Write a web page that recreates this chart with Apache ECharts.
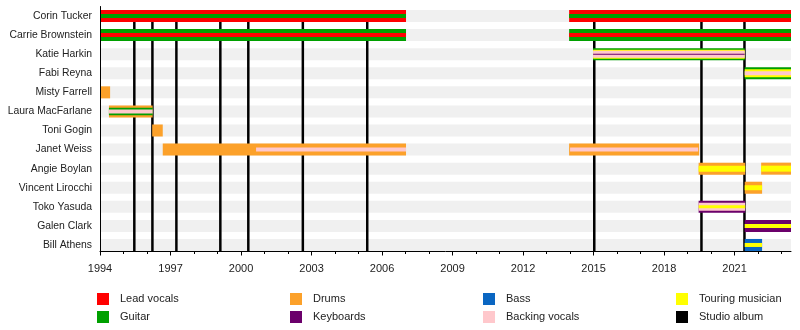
<!DOCTYPE html>
<html>
<head>
<meta charset="utf-8">
<script src="https://cdn.jsdelivr.net/npm/echarts@6/dist/echarts.min.js"></script>
<style>
html,body{margin:0;padding:0;background:#fff;}
#chart{width:800px;height:330px;}
</style>
</head>
<body>
<div id="chart"></div>
<script>
// ---------- DATA ----------
const members = ['Corin Tucker','Carrie Brownstein','Katie Harkin','Fabi Reyna','Misty Farrell','Laura MacFarlane','Toni Gogin','Janet Weiss','Angie Boylan','Vincent Lirocchi','Toko Yasuda','Galen Clark','Bill Athens'];

const startYear = 1994;
const endYear = 2023.4;
const tickYears = [1994,1997,2000,2003,2006,2009,2012,2015,2018,2021];
const minorYears = [1994,1995,1996,1997,1998,1999,2000,2001,2002,2003,2004,2005,2006,2007,2008,2009,2010,2011,2012,2013,2014,2015,2016,2017,2018,2019,2020,2021,2022,2023];

const leadVocals = [
  ['Corin Tucker',1994,2007.02],['Corin Tucker',2013.96,2023.4],
  ['Carrie Brownstein',1994,2007.02],['Carrie Brownstein',2013.96,2023.4]
];
const guitar = [
  ['Corin Tucker',1994,2007.02],['Corin Tucker',2013.96,2023.4],
  ['Carrie Brownstein',1994,2007.02],['Carrie Brownstein',2013.96,2023.4],
  ['Katie Harkin',2014.98,2021.43],['Fabi Reyna',2021.43,2023.4],
  ['Laura MacFarlane',1994.38,1996.24]
];
const drums = [
  ['Misty Farrell',1994,1994.43],['Laura MacFarlane',1994.38,1996.24],
  ['Toni Gogin',1996.22,1996.67],['Janet Weiss',1996.67,2007.02],
  ['Janet Weiss',2013.96,2019.49],['Angie Boylan',2019.47,2021.45],
  ['Angie Boylan',2022.13,2023.4],['Vincent Lirocchi',2021.43,2022.17]
];
const bass = [['Bill Athens',2021.43,2022.17]];
const keyboards = [
  ['Katie Harkin',2014.98,2021.43],['Toko Yasuda',2019.47,2021.45],
  ['Galen Clark',2021.43,2023.4]
];
const backingVocals = [
  ['Katie Harkin',2014.98,2021.43],['Fabi Reyna',2021.43,2023.4],
  ['Laura MacFarlane',1994.38,1996.24],['Janet Weiss',2000.64,2007.02],
  ['Janet Weiss',2014.0,2019.45],['Toko Yasuda',2019.47,2021.45]
];
const touringMusician = [
  ['Katie Harkin',2014.98,2021.43],['Fabi Reyna',2021.43,2023.4],
  ['Angie Boylan',2019.47,2021.45],['Angie Boylan',2022.13,2023.4],
  ['Vincent Lirocchi',2021.43,2022.17],['Toko Yasuda',2019.47,2021.45],
  ['Galen Clark',2021.43,2023.4],['Bill Athens',2021.43,2022.17]
];
const studioAlbums = [1995.46,1996.23,1997.25,1999.12,2000.31,2002.63,2005.37,2015.03,2019.59,2021.42];

// ---------- STYLE ----------
const colors = {
  lead:'#FF0000', guitar:'#00A000', drums:'#FCA12A', bass:'#0A66C2',
  keys:'#6B006B', bv:'#FFC8CC', touring:'#FFFF00', album:'#000000'
};
// stripe thickness (px) per member and role
const thickness = {
  'Corin Tucker':{lead:12, guitar:4},
  'Carrie Brownstein':{guitar:12, lead:4},
  'Katie Harkin':{guitar:12, touring:9, bv:7, keys:1},
  'Fabi Reyna':{guitar:12, touring:8, bv:4},
  'Misty Farrell':{drums:12},
  'Laura MacFarlane':{drums:12, guitar:7.5, bv:4},
  'Toni Gogin':{drums:12},
  'Janet Weiss':{drums:12, bv:4},
  'Angie Boylan':{drums:12, touring:6},
  'Vincent Lirocchi':{drums:12, touring:5},
  'Toko Yasuda':{keys:12, bv:8, touring:3},
  'Galen Clark':{keys:12, touring:4},
  'Bill Athens':{bass:12, touring:4}
};

function roleSeries(name, key, spans){
  return {
    type:'custom', name:name, z:3,
    itemStyle:{color:colors[key]},
    encode:{x:[1,2], y:0},
    data: spans.map(s => [members.indexOf(s[0]), s[1], s[2]]),
    renderItem:function(params, api){
      const row = api.value(0);
      const a = api.coord([api.value(1), row]);
      const b = api.coord([api.value(2), row]);
      const h = thickness[members[row]][key];
      return {type:'rect', z2:100 - h,
        shape:{x:a[0], y:a[1]-h/2, width:b[0]-a[0], height:h},
        style:{fill:colors[key]}};
    }
  };
}

const chart = echarts.init(document.getElementById('chart'), null, {renderer:'canvas'});
const labelFont = 'Liberation Sans, Arial, sans-serif';

// legend layout: [name, left, top]
const legendLayout = [
  ['Lead vocals',92,288],['Guitar',92,306],
  ['Drums',285,288],['Keyboards',285,306],
  ['Bass',478,288],['Backing vocals',478,306],
  ['Touring musician',671,288],['Studio album',671,306]
];
const legends = legendLayout.map(l => ({
  data:[l[0]], left:l[1], top:l[2], orient:'horizontal',
  itemWidth:12, itemHeight:12, icon:'rect', selectedMode:false,
  textStyle:{fontSize:11, color:'#222', fontFamily:labelFont, padding:[0,0,0,6]}
}));

chart.setOption({
  animation:false,
  backgroundColor:'#fff',
  grid:{left:100, right:9, top:6.5, height:248},
  xAxis:[{
    type:'value', min:startYear, max:endYear, position:'bottom', offset:-3, z:10,
    axisLine:{show:true, lineStyle:{color:'#000', width:1}},
    axisTick:{show:true, length:4, customValues:tickYears, lineStyle:{color:'#000'}},
    axisLabel:{customValues:tickYears, fontSize:11, color:'#222', fontFamily:labelFont, margin:12,
      formatter:v => String(v)},
    splitLine:{show:false}
  },{
    type:'value', min:startYear, max:endYear, position:'bottom', offset:-3, z:10,
    axisLine:{show:false},
    axisTick:{show:true, length:2.5, customValues:minorYears, lineStyle:{color:'#000'}},
    axisLabel:{show:false},
    splitLine:{show:false}
  }],
  yAxis:{
    type:'category', data:members, inverse:true, z:10,
    axisLine:{show:true, lineStyle:{color:'#000', width:1}},
    axisTick:{show:false},
    axisLabel:{fontSize:10.4, color:'#222', fontFamily:labelFont, margin:8},
    splitLine:{show:false}
  },
  legend:legends,
  series:[
    {
      type:'custom', name:'rows', z:1, silent:true,
      encode:{x:[1,2], y:0},
      data: members.map((m,i) => [i, startYear, endYear]),
      renderItem:function(params, api){
        const row = api.value(0);
        const a = api.coord([api.value(1), row]);
        const b = api.coord([api.value(2), row]);
        return {type:'rect', shape:{x:a[0], y:a[1]-6, width:b[0]-a[0], height:12},
          style:{fill:'#F0F0F0'}};
      }
    },
    {
      type:'custom', name:'Studio album', z:2,
      itemStyle:{color:colors.album},
      encode:{x:0},
      data: studioAlbums.map(v => [v]),
      renderItem:function(params, api){
        const cs = params.coordSys;
        const x = api.coord([api.value(0), 0])[0];
        return {type:'line', shape:{x1:x, y1:cs.y+3.5, x2:x, y2:cs.y+cs.height-3},
          style:{stroke:colors.album, lineWidth:2.5}};
      }
    },
    roleSeries('Lead vocals','lead',leadVocals),
    roleSeries('Guitar','guitar',guitar),
    roleSeries('Drums','drums',drums),
    roleSeries('Bass','bass',bass),
    roleSeries('Keyboards','keys',keyboards),
    roleSeries('Backing vocals','bv',backingVocals),
    roleSeries('Touring musician','touring',touringMusician)
  ]
});
</script>
</body>
</html>
